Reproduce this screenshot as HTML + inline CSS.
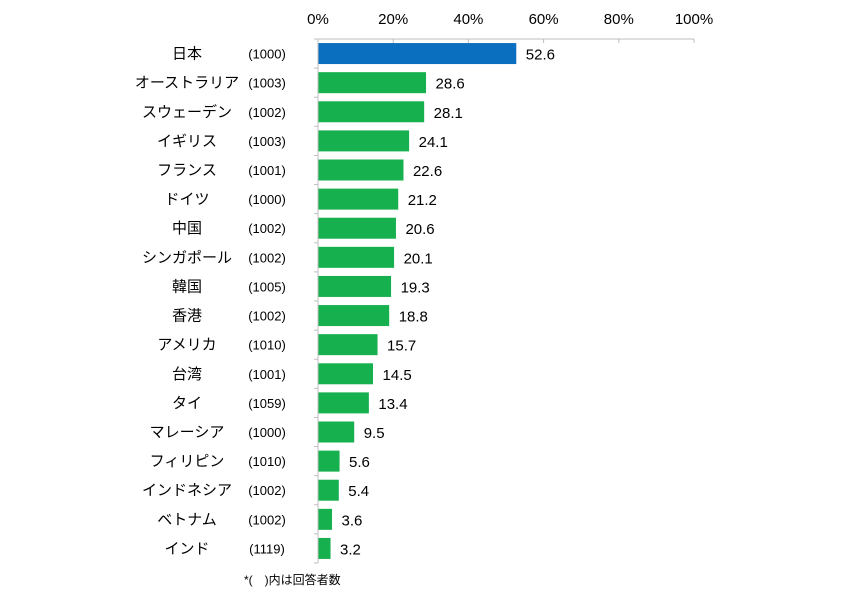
<!DOCTYPE html>
<html><head><meta charset="utf-8"><style>
body{margin:0;background:#fff;}
text{font-family:"Liberation Sans","Noto Sans CJK JP",sans-serif;fill:#000;}
</style></head><body>
<svg id="chart" width="846" height="600" xmlns="http://www.w3.org/2000/svg"></svg>
<script>
const categories=["日本","オーストラリア","スウェーデン","イギリス","フランス","ドイツ","中国","シンガポール","韓国","香港","アメリカ","台湾","タイ","マレーシア","フィリピン","インドネシア","ベトナム","インド"];
const counts=["(1000)","(1003)","(1002)","(1003)","(1001)","(1000)","(1002)","(1002)","(1005)","(1002)","(1010)","(1001)","(1059)","(1000)","(1010)","(1002)","(1002)","(1119)"];
const values=[52.6,28.6,28.1,24.1,22.6,21.2,20.6,20.1,19.3,18.8,15.7,14.5,13.4,9.5,5.6,5.4,3.6,3.2];
const ticks=[0,20,40,60,80,100];
const tickLabels=["0%","20%","40%","60%","80%","100%"];
const NS="http://www.w3.org/2000/svg";
const svgEl=document.getElementById('chart');
const x0=318,x1=694,yTop=39,yBottom=563;
const band=(yBottom-yTop)/categories.length;
const xs=v=>x0+(x1-x0)*v/100;
const yb=i=>yTop+band*i;
function mk(t,a){const e=document.createElementNS(NS,t);for(const k in a)e.setAttribute(k,a[k]);svgEl.appendChild(e);return e;}
let l=mk('line',{x1:x0,y1:yTop,x2:x1,y2:yTop,stroke:'#bfbfbf','stroke-width':1});


l=mk('line',{x1:x0,y1:yTop,x2:x0,y2:yBottom,stroke:'#bfbfbf','stroke-width':1});


ticks.forEach((t,i)=>{
 const tk=mk('line',{x1:xs(t),y1:yTop,x2:xs(t),y2:yTop+4,stroke:'#bfbfbf'});
 
 
 const tx=mk('text',{x:xs(t),y:24,'text-anchor':'middle','font-size':15});
 tx.textContent=tickLabels[i];
 
 
});
for(let i=0;i<=categories.length;i++){
 const tk=mk('line',{x1:x0-4,y1:yb(i),x2:x0,y2:yb(i),stroke:'#bfbfbf'});
 
 
}
categories.forEach((c,i)=>{
 const cy=yb(i)+band/2;
 const r=mk('rect',{x:x0+0.5,y:cy-10.5,width:xs(values[i])-x0,height:21,fill:i===0?'#0b6fc0':'#17b04f'});
 
 
 let t=mk('text',{x:187,y:cy+5,'text-anchor':'middle','font-size':15});
 t.textContent=c;
 
 
 t=mk('text',{x:267,y:cy+5,'text-anchor':'middle','font-size':13});
 t.textContent=counts[i];
 
 
 t=mk('text',{x:xs(values[i])+10,y:cy+6,'font-size':15});
 t.textContent=values[i].toFixed(1);
 
 
});
const n=mk('text',{x:244,y:584,'font-size':12});
n.textContent="*(　)内は回答者数";


</script>
</body></html>
